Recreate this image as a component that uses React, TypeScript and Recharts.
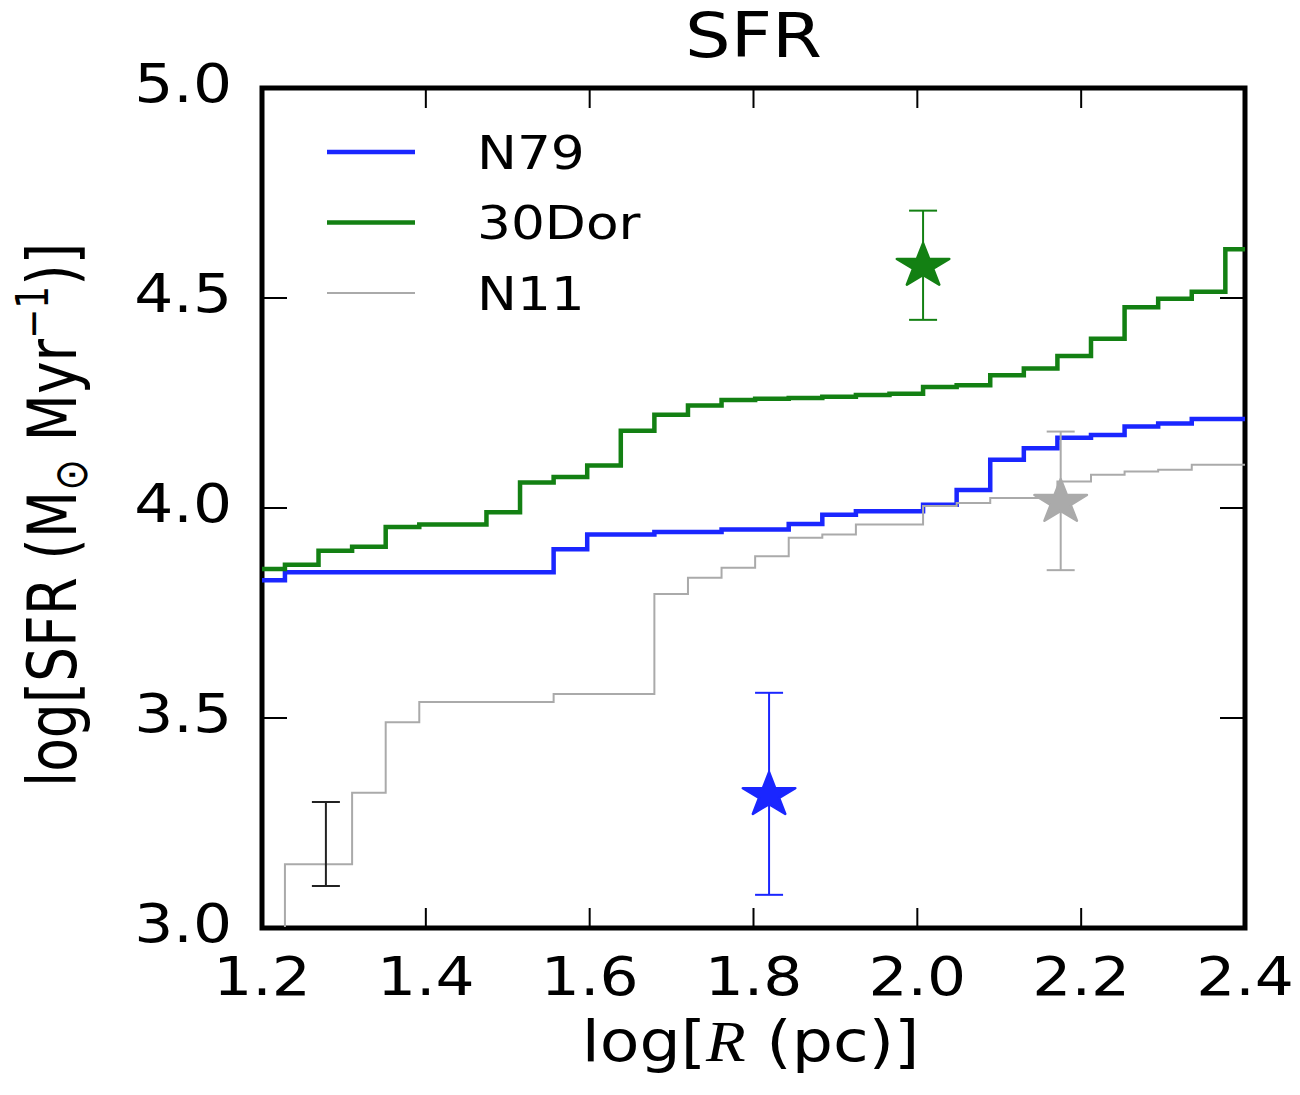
import React from "react";
import {
  ComposedChart,
  Line,
  Scatter,
  ErrorBar,
  XAxis,
  YAxis,
  ReferenceArea,
  Legend,
} from "recharts";

const FONT = "DejaVu Sans";
// the source figure is stretched sideways a little
const SX = 1.16;

// plot frame in page px
const LEFT = 262;
const RIGHT = 1245;
const TOP = 88;
const BOTTOM = 928;

const xTicks = [1.2, 1.4, 1.6, 1.8, 2.0, 2.2, 2.4];
const yTicks = [3.0, 3.5, 4.0, 4.5, 5.0];

// bin edges, log R
const edges = [
  1.2, 1.228, 1.269, 1.31, 1.351, 1.392, 1.433, 1.474, 1.515, 1.556, 1.597,
  1.638, 1.679, 1.72, 1.761, 1.802, 1.843, 1.884, 1.925, 1.966, 2.007, 2.048,
  2.089, 2.13, 2.171, 2.212, 2.253, 2.294, 2.335, 2.376, 2.4,
];

// cumulative log SFR per bin
const n79 = [
  3.828, 3.847, 3.847, 3.847, 3.847, 3.847, 3.847, 3.847, 3.847, 3.902,
  3.937, 3.937, 3.943, 3.943, 3.949, 3.949, 3.962, 3.984, 3.992, 3.992,
  4.008, 4.043, 4.115, 4.142, 4.167, 4.174, 4.194, 4.201, 4.212, 4.212,
];
const dor30 = [
  3.855, 3.865, 3.898, 3.908, 3.955, 3.961, 3.961, 3.99, 4.061, 4.074,
  4.101, 4.184, 4.222, 4.244, 4.257, 4.26, 4.262, 4.265, 4.269, 4.272,
  4.288, 4.292, 4.316, 4.332, 4.362, 4.403, 4.478, 4.498, 4.515, 4.616,
];
const n11 = [
  2.9, 3.152, 3.152, 3.322, 3.49, 3.538, 3.538, 3.538, 3.538, 3.557,
  3.557, 3.557, 3.795, 3.834, 3.858, 3.885, 3.929, 3.937, 3.961, 3.961,
  4.005, 4.012, 4.024, 4.024, 4.063, 4.079, 4.087, 4.091, 4.103, 4.103,
];

// stars: [logR, logSFR, err down, err up]
const n79Star = [1.819, 3.316, 0.237, 0.244];
const dor30Star = [2.007, 4.576, 0.128, 0.132];
const n11Star = [2.175, 4.014, 0.162, 0.168];
// typical error bar, no marker
const typicalErr = [1.278, 3.2, 0.1, 0.1];

const BLUE = "#1a26ff";
const GREEN = "#138013";
const GREY = "#aaaaaa";

const series = [
  { name: "N79", color: BLUE, width: 4.5, vals: n79, star: n79Star },
  { name: "30Dor", color: GREEN, width: 4.5, vals: dor30, star: dor30Star },
  { name: "N11", color: GREY, width: 2, vals: n11, star: n11Star },
];

const steps = (vals: number[]) =>
  edges.map((x, i) => ({ x, y: vals[Math.min(i, vals.length - 1)] }));

const point = (p: number[]) => [{ x: p[0], y: p[1], err: [p[2], p[3]] }];

function Txt({ x, y, size, anchor = "start", sx = SX, children }: any) {
  return (
    <text
      transform={`translate(${x},${y}) scale(${sx},1)`}
      textAnchor={anchor}
      fontSize={size}
      fontFamily={FONT}
      fill="#000"
    >
      {children}
    </text>
  );
}

const XTick = ({ x, y, payload }: any) => (
  <g>
    <line x1={x} x2={x} y1={BOTTOM} y2={BOTTOM - 20} stroke="#000" strokeWidth={2} />
    <line x1={x} x2={x} y1={TOP} y2={TOP + 20} stroke="#000" strokeWidth={2} />
    <Txt x={x} y={y + 67} size={53} anchor="middle">
      {Number(payload.value).toFixed(1)}
    </Txt>
  </g>
);

const YTick = ({ x, y, payload }: any) => (
  <g>
    <line x1={LEFT} x2={LEFT + 25} y1={y} y2={y} stroke="#000" strokeWidth={2} />
    <line x1={RIGHT} x2={RIGHT - 25} y1={y} y2={y} stroke="#000" strokeWidth={2} />
    <Txt x={x - 30} y={y + 14} size={53} anchor="end">
      {Number(payload.value).toFixed(1)}
    </Txt>
  </g>
);

const XLabel = ({ viewBox }: any) => (
  <Txt x={viewBox.x + viewBox.width / 2 - 3} y={1061} size={56} anchor="middle">
    log[
    <tspan fontFamily="Liberation Serif" fontStyle="italic">
      R
    </tspan>
    {" (pc)]"}
  </Txt>
);

const YLabel = ({ viewBox }: any) => {
  const cy = viewBox.y + viewBox.height / 2 + 7;
  return (
    <text
      transform={`translate(76,${cy}) scale(1.22,1) rotate(-90)`}
      textAnchor="middle"
      fontSize={55}
      fontFamily={FONT}
      fill="#000"
    >
      log[SFR (M
      <tspan fontSize={38} dy={9}>
        ⊙
      </tspan>
      <tspan dy={-9}>{"  Myr"}</tspan>
      <tspan fontSize={36} dy={-23}>
        −1
      </tspan>
      <tspan dy={23}>)]</tspan>
    </text>
  );
};

const Title = ({ viewBox }: any) => (
  <Txt x={viewBox.x + viewBox.width / 2} y={57} size={62} anchor="middle">
    SFR
  </Txt>
);

const starShape = (color: string) => (props: any) => {
  const { cx, cy } = props;
  const R = 23;
  const r = R * 0.382;
  const pts: string[] = [];
  for (let i = 0; i < 10; i++) {
    const a = -Math.PI / 2 + (i * Math.PI) / 5;
    const rad = i % 2 === 0 ? R : r;
    pts.push(`${(Math.cos(a) * rad * 1.2).toFixed(2)},${(Math.sin(a) * rad).toFixed(2)}`);
  }
  return (
    <polygon
      transform={`translate(${cx},${cy})`}
      points={pts.join(" ")}
      fill={color}
      stroke={color}
      strokeWidth={2.5}
      strokeLinejoin="round"
    />
  );
};

const renderLegend = (props: any) => {
  const payload = props.payload || [];
  // keep plotting order, not the sorted payload order
  const items = series.filter((s) => payload.some((e: any) => e.value === s.name));
  return (
    <svg width={420} height={210} style={{ overflow: "visible" }}>
      {items.map((s, i) => {
        const cy = 42 + i * 70.5;
        return (
          <g key={s.name}>
            <line x1={27} x2={115} y1={cy} y2={cy} stroke={s.color} strokeWidth={s.width} />
            <Txt x={177} y={cy + 16.5} size={46}>
              {s.name}
            </Txt>
          </g>
        );
      })}
    </svg>
  );
};

export default function App() {
  return (
    <div
      style={{
        position: "absolute",
        left: 0,
        top: 0,
        width: 1300,
        height: 1095,
        background: "#fff",
      }}
    >
      <ComposedChart
        width={1300}
        height={1095}
        margin={{ top: TOP, right: 1300 - RIGHT, bottom: 0, left: 0 }}
      >
        <XAxis
          dataKey="x"
          type="number"
          domain={[1.2, 2.4]}
          ticks={xTicks}
          allowDataOverflow
          height={1095 - BOTTOM}
          axisLine={false}
          tickLine={false}
          tickSize={0}
          tickMargin={0}
          tick={<XTick />}
          interval={0}
          label={<XLabel />}
        />
        <YAxis
          dataKey="y"
          type="number"
          domain={[3, 5]}
          ticks={yTicks}
          allowDataOverflow
          width={LEFT}
          axisLine={false}
          tickLine={false}
          tickSize={0}
          tickMargin={0}
          tick={<YTick />}
          interval={0}
          label={<YLabel />}
        />
        {series.map((s) => (
          <Line
            key={s.name}
            name={s.name}
            data={steps(s.vals)}
            dataKey="y"
            type="stepAfter"
            stroke={s.color}
            strokeWidth={s.width}
            dot={false}
            activeDot={false}
            isAnimationActive={false}
          />
        ))}
        {series.map((s) => (
          <Scatter
            key={s.name + "-star"}
            name={s.name + " star"}
            data={point(s.star)}
            dataKey="y"
            legendType="none"
            shape={starShape(s.color)}
            isAnimationActive={false}
          >
            <ErrorBar
              dataKey="err"
              direction="y"
              width={14}
              stroke={s.color}
              strokeWidth={2}
              isAnimationActive={false}
            />
          </Scatter>
        ))}
        <Scatter
          name="typical error"
          data={point(typicalErr)}
          dataKey="y"
          legendType="none"
          shape={() => <g />}
          isAnimationActive={false}
        >
          <ErrorBar
            dataKey="err"
            direction="y"
            width={14}
            stroke="#222"
            strokeWidth={2}
            isAnimationActive={false}
          />
        </Scatter>
        <ReferenceArea
          x1={1.2}
          x2={2.4}
          y1={3}
          y2={5}
          fill="none"
          stroke="#000"
          strokeWidth={5}
          ifOverflow="visible"
          label={<Title />}
        />
        <Legend
          layout="vertical"
          align="center"
          verticalAlign="middle"
          wrapperStyle={{ left: 300, top: 110 }}
          content={renderLegend}
        />
      </ComposedChart>
    </div>
  );
}
